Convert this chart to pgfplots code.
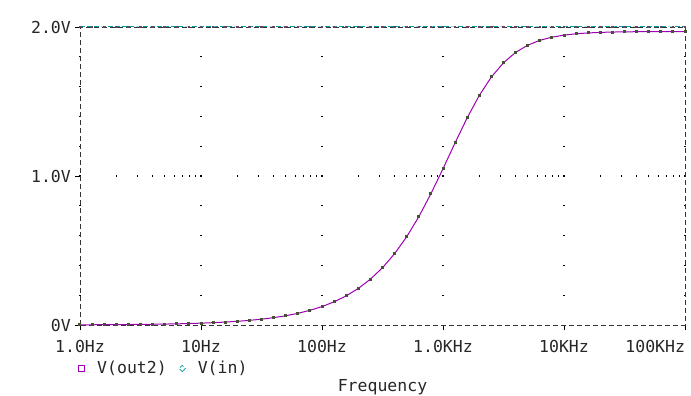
\documentclass[border=0pt]{standalone}
\usepackage{pgfplots}
\pgfplotsset{compat=1.18}
\usepackage{fontspec}
\setmainfont{DejaVu Sans Mono}
\definecolor{outc}{RGB}{160,0,180}
\definecolor{inc}{RGB}{0,160,160}
\definecolor{mk}{RGB}{70,80,50}
\begin{document}
\begin{tikzpicture}
\useasboundingbox (-80bp,-71bp) rectangle (611bp,325bp);
\begin{axis}[
  scale only axis, width=605bp, height=298bp,
  at={(0,0)}, anchor=south west,
  xmode=log, xmin=1, xmax=100000, ymin=0, ymax=2,
  xtick={1,10,100,1000,10000,100000},
  xticklabels={1.0Hz,10Hz,100Hz,1.0KHz,10KHz,\makebox[0pt][r]{100KHz}},
  minor xtick={2,3,4,5,6,7,8,9,20,30,40,50,60,70,80,90,200,300,400,500,600,700,800,900,2000,3000,4000,5000,6000,7000,8000,9000,20000,30000,40000,50000,60000,70000,80000,90000},
  ytick={0,1,2}, yticklabels={0V,1.0V,2.0V},
  tick align=outside, major tick length=5bp, minor tick length=0pt,
  xtick pos=bottom, ytick pos=left,
  tick style={black, line width=0.6bp},
  axis line style={black!80, dash pattern=on 5bp off 3bp, line width=0.6bp},
  xmajorgrids=true, xminorgrids=true,
  major x grid style={black, line width=1.2bp, dash pattern=on 0pt off 29.2bp on 1.2bp off 28.6bp on 1.2bp off 28.6bp on 1.2bp off 28.6bp on 1.2bp off 28.6bp on 1.2bp off 28.6bp on 1.2bp off 28.6bp on 1.2bp off 28.6bp on 1.2bp off 28.6bp on 1.2bp off 28.6bp},
  minor x grid style={black, line width=1.2bp, dash pattern=on 0pt off 148.4bp on 1.2bp off 200bp},
  ticklabel style={font=\fontsize{16.5bp}{18bp}\selectfont, text=black!85},
  xticklabel style={inner sep=0pt, yshift=-10bp},
  yticklabel style={inner sep=0pt, xshift=-4bp},
  xlabel={Frequency},
  xlabel style={font=\fontsize{16.5bp}{18bp}\selectfont, text=black!85, at={(axis description cs:0.5,0)}, anchor=north, inner sep=0pt, yshift=-54bp},
  legend style={draw=none, fill=none, at={(axis description cs:0,0)}, anchor=north west, xshift=-2bp, yshift=-34bp, font=\fontsize{16.5bp}{18bp}\selectfont, text=black!85, inner sep=0pt, column sep=10bp},
  legend columns=2,
  legend cell align=left,
]
\addplot[outc, line width=1bp, mark=square*, mark size=1bp, mark options={fill=mk, draw=mk, solid},
  legend image code/.code={\draw[outc, line width=0.8bp] (0.05cm,-0.12cm) rectangle (0.27cm,0.1cm);}]
coordinates {
(1,0.0012)(1.259,0.0016)(1.585,0.0020)(1.995,0.0025)(2.512,0.0031)(3.162,0.0039)(3.981,0.0049)(5.012,0.0062)(6.310,0.0078)(7.943,0.0098)
(10,0.0124)(12.59,0.0156)(15.85,0.0196)(19.95,0.0247)(25.12,0.0311)(31.62,0.0392)(39.81,0.0493)(50.12,0.0621)(63.10,0.0781)(79.43,0.0983)
(100,0.1237)(125.9,0.1555)(158.5,0.1954)(199.5,0.2453)(251.2,0.3075)(316.2,0.3843)(398.1,0.4785)(501.2,0.5922)(631.0,0.7266)(794.3,0.8805)
(1000,1.0488)(1259,1.2229)(1585,1.3907)(1995,1.5407)(2512,1.6646)(3162,1.7601)(3981,1.8295)(5012,1.8778)(6310,1.9103)(7943,1.9317)
(10000,1.9456)(12590,1.9545)(15850,1.9602)(19950,1.9638)(25120,1.9661)(31620,1.9675)(39810,1.9684)(50120,1.9690)(63100,1.9694)(79430,1.9696)
(100000,1.9697)
};
\addlegendentry{V(out2)}
\addplot[inc, line width=1bp, dash pattern=on 5bp off 2bp, mark=square*, mark size=0.8bp, mark options={fill=mk!80!magenta, draw=mk!80!magenta, solid},
  legend image code/.code={\draw[inc, line width=0.8bp] (0.16cm,-0.12cm) -- (0.27cm,-0.01cm) -- (0.16cm,0.1cm) -- (0.05cm,-0.01cm) -- cycle;}]
coordinates {
(1,2)(1.259,2)(1.585,2)(1.995,2)(2.512,2)(3.162,2)(3.981,2)(5.012,2)(6.310,2)(7.943,2)
(10,2)(12.59,2)(15.85,2)(19.95,2)(25.12,2)(31.62,2)(39.81,2)(50.12,2)(63.10,2)(79.43,2)
(100,2)(125.9,2)(158.5,2)(199.5,2)(251.2,2)(316.2,2)(398.1,2)(501.2,2)(631.0,2)(794.3,2)
(1000,2)(1259,2)(1585,2)(1995,2)(2512,2)(3162,2)(3981,2)(5012,2)(6310,2)(7943,2)
(10000,2)(12590,2)(15850,2)(19950,2)(25120,2)(31620,2)(39810,2)(50120,2)(63100,2)(79430,2)
(100000,2)
};
\addlegendentry{V(in)}
\end{axis}
\end{tikzpicture}
\end{document}
